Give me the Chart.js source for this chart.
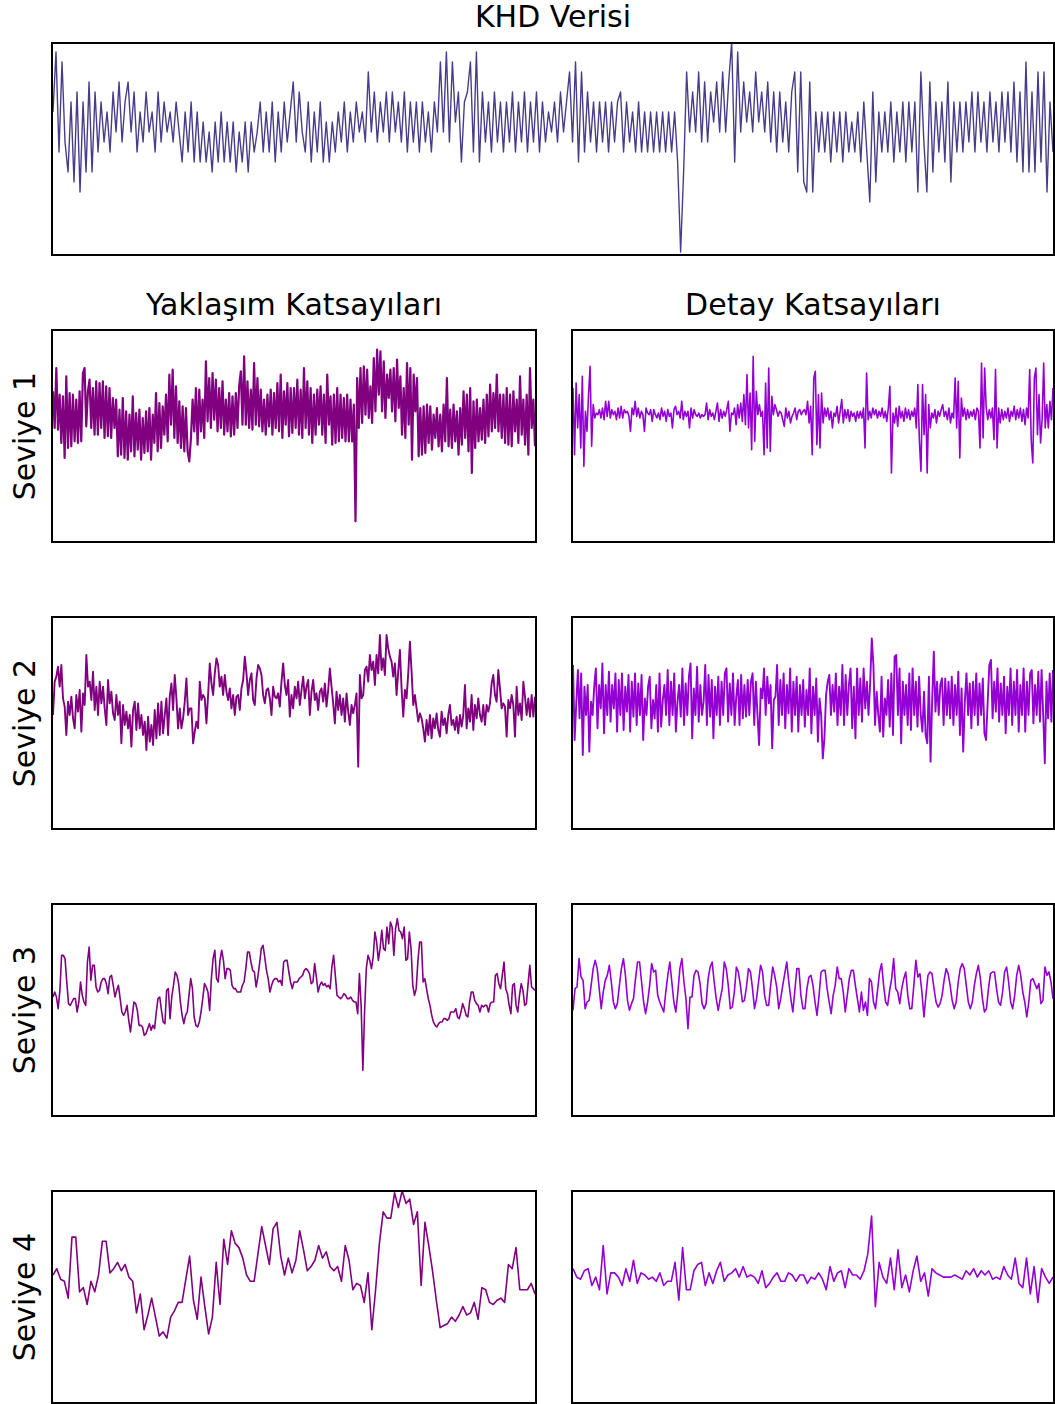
<!DOCTYPE html>
<html>
<head>
<meta charset="utf-8">
<script src="https://cdn.jsdelivr.net/npm/chart.js@4.4.1/dist/chart.umd.min.js"></script>
<style>
  body { margin: 0; background: #fff; width: 1055px; height: 1404px; position: relative; overflow: hidden; font-family: 'DejaVu Sans', sans-serif; }
  .panel { position: absolute; box-sizing: border-box; border: 2px solid #000; background: #fff; }
  .panel canvas { display: block; }
  .txt { position: absolute; font-size: 30px; line-height: 30px; white-space: nowrap; text-align: center; color: #000; }
</style>
</head>
<body>
<script>
// metinler
var mainTitle = 'KHD Verisi';
var colTitles = ['Yaklaşım Katsayıları', 'Detay Katsayıları'];
var rowLabels = ['Seviye 1', 'Seviye 2', 'Seviye 3', 'Seviye 4'];

// KHD sinyali (tam sayı seviyeler)
var khd = [
  14,20,10,19,11,8,15,7,16,6, 15,8,17,8,16,10,15,11,14,10,
  16,12,17,11,15,17,12,16,10,14, 11,16,12,14,10,16,11,15,12,14,
  11,15,12,9,14,10,15,9,14,9, 13,9,12,8,13,9,14,9,13,9,
  13,8,12,9,13,8,13,10,12,15, 10,14,10,15,9,14,10,15,11,14,
  17,11,16,12,10,15,9,14,10,15, 9,13,9,13,10,14,11,15,10,14,
  11,15,12,14,11,18,12,16,11,15, 12,16,11,16,12,15,11,16,10,15,
  11,15,10,15,11,14,10,15,12,19, 12,20,11,19,13,16,9,15,16,19,
  10,20,9,16,11,15,10,16,11,15, 10,15,11,16,10,15,11,16,10,15,
  11,16,10,15,11,14,12,
  15,11,16,12,15,18,11,19,9,18, 10,16,11,15,10,15,11,15,10,15,
  11,15,16,10,15,11,14,10,15,10, 14,10,14,10,14,10,14,10,14,10,
  14,9,0,8,18,12,16,12,18,11, 17,11,16,13,17,12,18,12,17,21,
  9,20,12,17,13,16,12,18,13,16, 12,17,11,16,10,16,11,15,10,16,
  18,8,18,7,6,17,6,14,10,14, 10,14,9,14,10,14,9,14,10,13,
  10,14,9,15,10,5,16,7,14,10, 14,10,15,9,14,10,15,9,15,10,
  15,6,18,11,6,17,8,15,10,15, 9,17,7,15,10,15,10,15,11,16,
  10,16,11,15,10,16,11,15,10,16, 11,16,10,17,9,16,8,19,8,16,
  8,18,9,18,6,15,10
];

// yaklaşım katsayıları
var approx1 = [
  90,68,104,67,88,59,87,50,99,56, 89,57,88,60,85,59,90,60,101,104,
  69,90,97,68,92,64,96,64,95,68, 96,62,93,63,92,62,86,68,85,51,
  79,52,86,50,78,49,76,54,87,51, 77,55,79,49,74,53,78,54,80,49,
  76,59,89,54,83,56,81,64,88,60, 100,70,103,62,93,59,84,56,81,54,
  80,54,48,62,85,66,92,58,91,66, 85,62,108,72,98,68,101,73,97,66,
  92,68,96,64,85,66,89,63,87,64, 89,68,93,102,70,111,70,96,68,91,
  67,107,70,98,69,91,66,85,64,88, 69,91,64,89,68,95,66,100,62,90,
  70,95,63,92,65,92,68,97,64,91, 62,104,68,96,64,92,59,88,64,91,
  70,93,64,88,59,100,70,87,58,88, 59,92,60,88,62,86,60,88,60,85,
  60,82,12,98,68,104,71,105,76,103, 74,93,71,110,78,115,88,114,78,108,
  74,100,86,103,78,104,72,109,80,99, 64,92,62,107,70,104,49,100,78,98,
  51,80,52,81,53,82,59,81,55,76, 62,80,57,76,54,82,60,98,57,79,
  56,82,60,78,52,80,58,90,62,88, 54,92,41,84,56,85,60,80,61,85,
  59,88,63,94,66,89,68,100,66,88, 62,88,59,92,58,88,57,90,66,85,
  59,99,64,85,58,88,52,104,68,85, 57
];
var approx2 = [
  68,88,91,97,85,98,78,73,56,76, 68,79,66,60,80,70,83,58,81,74,
  104,85,88,77,94,71,85,68,88,75, 85,72,62,89,75,82,69,65,80,68,
  76,51,74,62,70,60,68,49,71,76, 59,75,60,68,56,64,47,67,52,62,
  50,71,54,75,56,76,57,68,
  78,56,79,87,71,92,78,60,72,60, 66,76,90,68,72,72,51,58,64,60,
  88,77,80,78,63,80,99,87,80,93, 102,98,85,91,80,92,82,77,84,72,
  80,68,79,80,71,84,89,103,93,80, 89,93,77,74,90,98,96,92,80,75,
  83,84,78,68,85,79,78,81,73,88, 99,86,80,89,67,80,72,85,78,88,
  74,83,91,78,85,89,68,82,89,77, 81,71,82,84,76,87,73,83,96,85,
  75,63,82,71,80,68,78,64,81,70, 62,74,69,74,81,37,92,78,80,95,
  97,88,104,95,100,86,104,93,116,95, 102,92,116,108,103,100,91,99,80,94,
  107,84,67,83,78,93,112,94,74,80, 72,64,69,66,60,52,65,56,68,54,
  66,60,69,59,55,70,62,66,57,68, 74,62,65,59,67,57,68,61,68,86,
  60,72,64,80,59,74,66,78,68,64, 74,62,74,70,75,87,92,80,76,95,
  84,72,75,73,55,77,72,80,74,55, 85,68,75,65,88,79,68,78,67,80,
  67,79
];
var approx3 = [
  71,74,71,64,75,96,96,94,80,67, 66,68,70,70,62,68,80,72,68,66,
  92,101,81,90,90,77,74,75,80,82, 82,79,73,83,84,78,71,75,78,70,
  62,60,62,66,57,50,59,68,67,63, 54,54,53,48,49,52,55,51,54,52,
  62,70,71,63,56,55,75,76,58,71, 78,86,84,79,68,60,55,60,62,72,
  82,76,59,54,53,56,62,70,79,77, 74,63,82,94,99,82,80,93,99,93,
  82,88,88,87,78,76,76,74,74,74, 78,80,88,98,98,92,87,86,77,83,
  91,100,102,95,87,82,74,78,81,82, 82,80,81,78,92,93,93,86,80,76,
  80,80,80,82,83,84,87,88,87,85, 79,80,91,83,74,78,80,78,79,77,
  78,76,89,96,84,72,71,70,71,73, 72,70,70,71,69,68,68,61,85,66,
  27,62,88,96,93,88,95,110,104,93, 100,111,100,99,113,103,116,113,96,112,
  118,111,110,106,113,93,94,110,100,78, 72,76,93,104,104,80,82,76,70,66,
  60,56,54,53,55,56,56,58,58,57, 58,62,62,62,64,59,58,62,67,64,
  60,59,68,74,74,69,67,66,62,66, 65,66,66,62,67,68,68,84,85,79,
  76,84,92,76,73,66,61,78,79,66, 62,72,79,75,66,67,79,90,77,76,
  75
];
var approx4 = [
  60,63,58,57,49,78,78,52,54,46, 57,52,60,76,76,61,63,66,62,65,
  59,57,42,51,34,41,49,40,31,33, 30,40,43,47,47,58,69,48,39,59,
  45,32,40,66,46,77,65,81,75,73, 68,60,57,57,70,83,74,65,82,85,
  69,60,68,61,67,81,72,62,64,67, 74,68,71,64,62,64,57,74,67,53,
  56,55,47,61,34,53,75,90,87,87, 99,92,100,94,96,84,90,55,85,74,
  62,48,35,36,37,40,38,41,45,41, 42,47,39,54,53,47,46,48,49,47,
  65,63,73,53,53,53,56,51
];

// detay katsayıları
var detail1 = [
  92,52,95,68,88,56,99,45,78,66, 88,105,57,82,74,77,76,79,74,80,
  73,84,75,84,74,79,76,78,73,80, 74,81,74,79,77,78,75,66,80,76,
  84,75,80,74,78,76,66,80,77,76, 79,72,79,76,74,77,73,80,75,78,
  72,79,75,77,68,79,81,76,78,74, 84,73,78,75,78,68,80,74,79,76,
  75,77,74,76,75,76,83,73,79,75, 77,73,78,83,72,79,74,78,75,79,
  84,66,77,76,80,70,82,74,83,72, 88,70,100,68,89,55,111,60,90,76,
  82,75,78,52,95,56,104,54,87,76, 82,79,75,78,77,73,69,80,74,78,
  71,75,77,80,73,78,79,76,78,79, 76,84,71,81,52,98,102,58,88,56,
  89,71,80,75,80,73,78,68,77,75, 81,71,78,85,71,79,74,79,72,78,
  75,77,72,78,74,78,74,80,56,101, 73,78,74,80,76,79,74,78,75,80,
  74,78,72,80,93,41,77,71,80,69, 81,74,78,72,80,74,79,73,78,75,
  80,68,94,60,42,94,64,88,41,82, 68,77,74,79,71,78,75,79,82,75,
  78,73,80,71,77,74,98,68,96,50, 86,75,80,73,79,74,78,75,79,73,
  80,78,56,107,62,104,80,73,79,74, 80,61,103,56,80,71,79,73,78,74,
  80,72,78,75,81,73,79,74,80,72, 79,70,80,74,103,60,47,98,104,64,
  88,59,73,107,68,82,68,84,73,92
];
var detail2 = [
  98,53,75,95,66,93,44,85,68,86, 46,76,68,85,96,60,86,72,99,57,
  86,68,94,64,86,72,93,58,89,68, 93,59,85,70,92,58,88,67,93,62,
  87,68,92,53,78,68,85,91,60,77, 66,86,58,93,61,77,86,68,95,62,
  88,68,93,58,76,86,67,96,62,87, 68,91,99,54,84,68,97,64,86,68,
  76,98,62,92,67,89,54,85,68,91, 62,88,68,93,96,64,87,68,93,62,
  79,89,62,92,66,86,67,89,68,88, 93,62,88,68,50,84,78,96,68,91,
  75,86,48,77,79,98,62,89,68,93, 60,86,69,96,58,88,68,91,58,86,
  68,89,61,83,68,96,57,85,68,90, 52,78,68,42,54,80,88,92,68,86,
  70,93,62,85,68,98,62,92,68,86, 96,60,85,54,96,68,90,64,96,72,
  88,68,87,114,98,62,82,68,58,91, 55,78,68,89,61,93,56,103,104,68,
  96,51,88,68,86,62,93,59,96,68, 88,61,91,68,58,82,56,51,91,40,
  77,106,70,88,68,86,90,62,90,68, 88,66,91,62,86,68,94,56,84,46,
  76,93,68,87,60,88,68,93,62,87, 68,90,57,53,76,98,101,66,88,70,
  96,64,87,68,91,57,85,68,96,62, 88,68,95,58,86,68,96,58,88,68,
  93,95,63,86,68,94,64,95,68,39, 88,66,93,64,95
];
var detail3 = [
  63,76,77,94,83,81,64,68,69,78, 88,93,88,76,64,74,81,84,90,80,
  68,64,67,78,88,94,84,69,63,67, 70,82,92,92,80,68,61,68,78,91,
  86,87,72,68,65,62,74,84,92,80, 68,62,74,88,94,80,70,52,71,71,
  84,87,86,79,67,64,67,82,89,92, 80,70,63,70,76,92,88,78,64,65,
  74,89,86,78,68,69,77,88,86,76, 64,70,80,90,86,72,66,66,78,89,
  84,77,64,70,78,85,92,80,70,62, 75,88,88,72,64,64,76,83,84,78,
  68,60,72,86,87,87,76,68,61,72, 78,89,82,82,74,62,72,82,87,87,
  78,70,62,74,63,68,60,82,80,68, 64,75,86,91,78,68,66,75,82,94,
  76,74,67,76,82,86,72,64,64,78, 93,83,85,74,59,72,84,86,85,76,
  68,65,67,72,81,88,85,78,69,64, 68,80,88,91,88,78,68,64,68,78,
  85,90,82,70,62,64,76,85,86,86, 76,68,66,74,86,89,80,68,64,72,
  84,90,84,74,68,59,68,81,82,79, 76,79,67,69,89,84,86,80,70
];
var detail4 = [
  63,59,58,62,63,55,59,53,74,51, 61,61,59,55,63,57,67,56,61,60,
  58,59,57,61,55,57,57,66,48,73, 53,53,62,65,66,55,61,56,62,66,
  57,60,61,63,59,64,59,60,59,56, 62,54,56,59,61,57,57,61,60,57,
  60,60,56,59,58,61,58,53,64,57, 61,62,54,63,60,60,58,62,70,88,
  45,66,59,56,68,53,72,54,60,52, 62,69,57,61,50,63,61,60,59,59,
  59,60,59,58,62,60,63,59,62,60, 62,58,59,58,64,60,58,68,56,54,
  68,51,64,47,63,59,56,59
];

var C_SIGNAL = '#483d8b';
var C_APPROX = '#800080';
var C_DETAIL = '#9400d3';

function addText(str, cx, top, rotate) {
  var d = document.createElement('div');
  d.className = 'txt';
  d.textContent = str;
  d.style.width = '600px';
  d.style.left = (cx - 300) + 'px';
  d.style.top = top + 'px';
  if (rotate) d.style.transform = 'rotate(-90deg)';
  document.body.appendChild(d);
}

function makePanel(left, top, w, h, values, color, yMin, yMax, lw) {
  var div = document.createElement('div');
  div.className = 'panel';
  div.style.left = left + 'px';
  div.style.top = top + 'px';
  div.style.width = w + 'px';
  div.style.height = h + 'px';
  var cv = document.createElement('canvas');
  cv.width = w - 4;
  cv.height = h - 4;
  div.appendChild(cv);
  document.body.appendChild(div);

  new Chart(cv.getContext('2d'), {
    type: 'line',
    data: {
      labels: values.map(function (v, i) { return i; }),
      datasets: [{
        data: values,
        borderColor: color,
        borderWidth: lw,
        borderJoinStyle: 'round',
        pointRadius: 0,
        tension: 0,
        fill: false
      }]
    },
    options: {
      responsive: false,
      animation: false,
      events: [],
      layout: { padding: 0 },
      plugins: { legend: { display: false }, tooltip: { enabled: false } },
      scales: {
        x: { display: false, offset: false },
        y: { display: false, min: yMin, max: yMax }
      }
    }
  });
}

// üst panel
addText(mainTitle, 553, 2, false);
makePanel(51, 42, 1004, 214, khd, C_SIGNAL, -0.2, 20.8, 1.4);

// sütun başlıkları
addText(colTitles[0], 294, 290, false);
addText(colTitles[1], 813, 290, false);

var approx = [approx1, approx2, approx3, approx4];
var detail = [detail1, detail2, detail3, detail4];
var approxWidth = [2.2, 1.9, 1.6, 1.6];
var detailWidth = [1.6, 1.9, 1.6, 1.6];
var rowTop = [329, 616, 903, 1190];

for (var r = 0; r < 4; r++) {
  var lo = r < 3 ? 0.2 : -0.3;
  var hi = r < 3 ? 126.2 : 99.4;
  makePanel(51, rowTop[r], 486, 214, approx[r], C_APPROX, lo, hi, approxWidth[r]);
  makePanel(571, rowTop[r], 484, 214, detail[r], C_DETAIL, lo, hi, detailWidth[r]);
  addText(rowLabels[r], 25, rowTop[r] + 107 - 15, true);
}
</script>
</body>
</html>
